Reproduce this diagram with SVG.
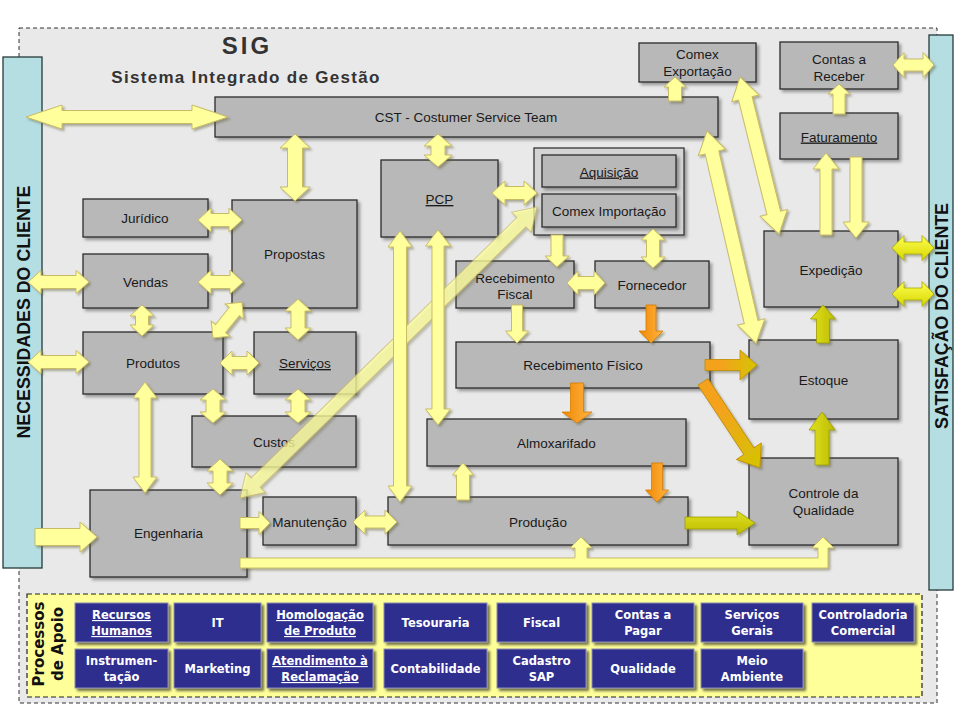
<svg xmlns="http://www.w3.org/2000/svg" width="960" height="720" viewBox="0 0 960 720">
<defs>
<style>
.bx{fill:#b8b8b8;stroke:#2a2a2a;stroke-width:1.3;filter:url(#sh)}
.ct{fill:#d4d4d4;stroke:#2a2a2a;stroke-width:1.2;filter:url(#sh)}
.t{font-family:"Liberation Sans",Arial,sans-serif;font-size:13.5px;fill:#1a1a1a;text-anchor:middle}
.u{text-decoration:underline}
.bar{fill:#b4dee2;stroke:#253a3a;stroke-width:1.3}
.bart{font-family:"Liberation Sans",Arial,sans-serif;font-weight:bold;font-size:17.8px;fill:#111;text-anchor:middle}
.bb{fill:#2f2f8f;stroke:#8a8ab0;stroke-width:1;filter:url(#sh2)}
.bt{font-family:"DejaVu Sans",Verdana,sans-serif;font-weight:bold;font-size:11.5px;fill:#ffffff;text-anchor:middle}
.ya{fill:#ffff9c;stroke:#c9bb66;stroke-width:1}
.oa{fill:url(#gO);stroke:#d47c00;stroke-width:0.8}
.la{fill:url(#gL);stroke:#9c9c00;stroke-width:0.8}
.xa{fill:url(#gX);stroke:#a8a800;stroke-width:0.8}
.oy{fill:url(#gOY);stroke:#c08a00;stroke-width:0.8}
</style>
<filter id="sh" x="-10%" y="-10%" width="130%" height="140%"><feDropShadow dx="2.5" dy="2.5" stdDeviation="1.5" flood-color="#000" flood-opacity="0.35"/></filter>
<filter id="sh2" x="-10%" y="-10%" width="130%" height="140%"><feDropShadow dx="2.5" dy="2.5" stdDeviation="1" flood-color="#000" flood-opacity="0.55"/></filter>
<filter id="ash" x="-5%" y="-5%" width="115%" height="115%"><feDropShadow dx="2" dy="2" stdDeviation="1.2" flood-color="#5a5a30" flood-opacity="0.45"/></filter>
<linearGradient id="gO" x1="0" y1="0" x2="0" y2="1"><stop offset="0" stop-color="#ffb444"/><stop offset="1" stop-color="#f08800"/></linearGradient>
<linearGradient id="gL" x1="0" y1="0" x2="0" y2="1"><stop offset="0" stop-color="#e0e020"/><stop offset="1" stop-color="#bcbc00"/></linearGradient>
<linearGradient id="gX" x1="0" y1="0" x2="0" y2="1"><stop offset="0" stop-color="#ffff50"/><stop offset="1" stop-color="#d6d600"/></linearGradient>
<linearGradient id="gOY" x1="0" y1="0" x2="1" y2="0"><stop offset="0.3" stop-color="#f4a21e"/><stop offset="1" stop-color="#d4c400"/></linearGradient>
</defs>

<rect width="960" height="720" fill="#ffffff"/>
<rect x="19" y="28" width="918" height="675" fill="#e9e9e9" stroke="#333" stroke-width="1" stroke-dasharray="4 3"/>

<g id="title">
<text x="247" y="54" font-family="Liberation Sans, Arial, sans-serif" font-weight="bold" font-size="24" letter-spacing="3" fill="#333" text-anchor="middle">SIG</text>
<text x="246" y="83" font-family="Liberation Sans, Arial, sans-serif" font-weight="bold" font-size="17" letter-spacing="1.3" fill="#333" text-anchor="middle">Sistema Integrado de Gestão</text>
</g>

<g id="necessidades">
<rect class="bar" x="3" y="57" width="39" height="511"/>
<text class="bart" transform="translate(30,312) rotate(-90)">NECESSIDADES DO CLIENTE</text>
</g>
<g id="satisfacao">
<rect class="bar" x="929" y="35" width="24" height="555"/>
<text class="bart" transform="translate(948,316) rotate(-90)">SATISFAÇÃO DO CLIENTE</text>
</g>

<g id="cst"><rect class="bx" x="215" y="97" width="503" height="40"/><text class="t" x="466" y="122">CST - Costumer Service Team</text></g>
<g id="comex-exportacao"><rect class="bx" x="639" y="43" width="117" height="39"/><text class="t" x="697.5" y="59">Comex</text><text class="t" x="697.5" y="75.5">Exportação</text></g>
<g id="contas-receber"><rect class="bx" x="780" y="42" width="118" height="47"/><text class="t" x="839" y="64">Contas a</text><text class="t" x="839" y="80.5">Receber</text></g>
<g id="faturamento"><rect class="bx" x="780" y="113" width="118" height="46"/><text class="t u" x="839" y="141.5">Faturamento</text></g>
<g id="pcp"><rect class="bx" x="381" y="160" width="117" height="77"/><text class="t u" x="439.5" y="204">PCP</text></g>
<g id="aquisicao-grupo"><rect class="ct" x="534" y="148" width="150" height="87"/>
<g id="aquisicao"><rect class="bx" x="542" y="155" width="134" height="32"/><text class="t u" x="609" y="176.5">Aquisição</text></g>
<g id="comex-importacao"><rect class="bx" x="542" y="194" width="134" height="33"/><text class="t" x="609" y="215.5">Comex Importação</text></g>
</g>
<g id="juridico"><rect class="bx" x="83" y="199" width="125" height="38"/><text class="t" x="145" y="222.5">Jurídico</text></g>
<g id="propostas"><rect class="bx" x="232" y="200" width="125" height="108"/><text class="t" x="294.5" y="259">Propostas</text></g>
<g id="vendas"><rect class="bx" x="83" y="254" width="125" height="54"/><text class="t" x="145.5" y="286.5">Vendas</text></g>
<g id="produtos"><rect class="bx" x="83" y="332" width="140" height="62"/><text class="t" x="153" y="368">Produtos</text></g>
<g id="servicos"><rect class="bx" x="254" y="332" width="102" height="62"/><text class="t u" x="305" y="368">Serviços</text></g>
<g id="custos"><rect class="bx" x="192" y="416" width="164" height="51"/><text class="t" x="274" y="446.5">Custos</text></g>
<g id="engenharia"><rect class="bx" x="90" y="490" width="157" height="87"/><text class="t" x="168.5" y="538">Engenharia</text></g>
<g id="manutencao"><rect class="bx" x="263" y="497" width="93" height="48"/><text class="t" x="309.5" y="526.5">Manutenção</text></g>
<g id="producao"><rect class="bx" x="388" y="497" width="300" height="48"/><text class="t" x="538" y="526.5">Produção</text></g>
<g id="almoxarifado"><rect class="bx" x="427" y="419" width="259" height="47"/><text class="t" x="556.5" y="447.5">Almoxarifado</text></g>
<g id="recebimento-fisico"><rect class="bx" x="456" y="342" width="254" height="46"/><text class="t" x="583" y="369.5">Recebimento Físico</text></g>
<g id="recebimento-fiscal"><rect class="bx" x="456" y="261" width="118" height="47"/><text class="t" x="515" y="282.5">Recebimento</text><text class="t" x="515" y="299">Fiscal</text></g>
<g id="fornecedor"><rect class="bx" x="595" y="261" width="114" height="47"/><text class="t" x="652" y="290">Fornecedor</text></g>
<g id="expedicao"><rect class="bx" x="764" y="231" width="134" height="76"/><text class="t" x="831" y="275">Expedição</text></g>
<g id="estoque"><rect class="bx" x="749" y="340" width="149" height="79"/><text class="t" x="823.5" y="385">Estoque</text></g>
<g id="controle-qualidade"><rect class="bx" x="749" y="458" width="149" height="87"/><text class="t" x="823.5" y="498">Controle da</text><text class="t" x="823.5" y="515">Qualidade</text></g>

<g id="connectors" filter="url(#ash)">
<polygon class="ya" opacity="0.72" points="0,0 22,-14 22,-6.5 394,-6.5 394,-14 416,0 394,14 394,6.5 22,6.5 22,14" transform="translate(240,498) rotate(-44.42)"/>
<polygon class="ya" points="0,0 36,-12 36,-6.5 166,-6.5 166,-12 202,0 166,12 166,6.5 36,6.5 36,12" transform="translate(26,117)"/>
<polygon class="ya" points="0,0 14,-15 14,-7.5 53,-7.5 53,-15 67,0 53,15 53,7.5 14,7.5 14,15" transform="translate(295,134) rotate(90)"/>
<polygon class="ya" points="0,0 12,-14 12,-7 21,-7 21,-14 33,0 21,14 21,7 12,7 12,14" transform="translate(438,134) rotate(90)"/>
<polygon class="ya" points="0,-6.5 14,-6.5 14,-11 24,0 14,11 14,6.5 0,6.5" transform="translate(675,101) rotate(-90)"/>
<polygon class="ya" points="0,0 22,-14 22,-7 140,-7 140,-14 162,0 140,14 140,7 22,7 22,14" transform="translate(740,77) rotate(76.05)"/>
<polygon class="ya" points="0,0 22,-14 22,-7 196,-7 196,-14 218,0 196,14 196,7 22,7 22,14" transform="translate(707,131) rotate(76.99)"/>
<polygon class="ya" points="0,-6 20,-6 20,-11 30,0 20,11 20,6 0,6" transform="translate(839,114) rotate(-90)"/>
<polygon class="ya" points="0,0 11,-12.5 11,-6 30,-6 30,-12.5 41,0 30,12.5 30,6 11,6 11,12.5" transform="translate(893,65)"/>
<polygon class="ya" points="0,-6 66,-6 66,-13 82,0 66,13 66,6 0,6" transform="translate(826,235) rotate(-90)"/>
<polygon class="ya" points="0,-6 65,-6 65,-13 81,0 65,13 65,6 0,6" transform="translate(856,157) rotate(90)"/>
<polygon class="xa" points="0,0 12,-12.5 12,-6 30,-6 30,-12.5 42,0 30,12.5 30,6 12,6 12,12.5" transform="translate(892,248)"/>
<polygon class="xa" points="0,0 12,-12.5 12,-6 30,-6 30,-12.5 42,0 30,12.5 30,6 12,6 12,12.5" transform="translate(892,294)"/>
<polygon class="la" points="0,-6.5 24,-6.5 24,-12.5 38,0 24,12.5 24,6.5 0,6.5" transform="translate(823,343) rotate(-90)"/>
<polygon class="la" points="0,-7 35,-7 35,-13 53,0 35,13 35,7 0,7" transform="translate(822,465) rotate(-90)"/>
<polygon class="oy" points="0,-5.5 35,-5.5 35,-15 52,0 35,15 35,5.5 0,5.5" transform="translate(705,365)"/>
<polygon class="oy" points="0,-6 83,-6 83,-15 103,0 83,15 83,6 0,6" transform="translate(703,382) rotate(56.45)"/>
<polygon class="la" points="0,-6 52,-6 52,-12 70,0 52,12 52,6 0,6" transform="translate(685,523)"/>
<polygon class="ya" points="240,558 575,558 575,548 570,548 581,537 592,548 587,548 587,558 818,558 818,548 812,548 823,537 834,548 828,548 828,568 240,568"/>
<polygon class="ya" points="0,-8.5 45,-8.5 45,-15 62,0 45,15 45,8.5 0,8.5" transform="translate(35,537)"/>
<polygon class="ya" points="0,0 13,-11.5 13,-6.5 48,-6.5 48,-11.5 61,0 48,11.5 48,6.5 13,6.5 13,11.5" transform="translate(28,282)"/>
<polygon class="ya" points="0,0 13,-11.5 13,-6.5 48,-6.5 48,-11.5 61,0 48,11.5 48,6.5 13,6.5 13,11.5" transform="translate(28,362)"/>
<polygon class="ya" points="0,0 13,-12 13,-6.5 31,-6.5 31,-12 44,0 31,12 31,6.5 13,6.5 13,12" transform="translate(198,220)"/>
<polygon class="ya" points="0,0 13,-12 13,-6.5 32,-6.5 32,-12 45,0 32,12 32,6.5 13,6.5 13,12" transform="translate(198,282)"/>
<polygon class="ya" points="0,0 11,-12 11,-6.5 20,-6.5 20,-12 31,0 20,12 20,6.5 11,6.5 11,12" transform="translate(142,305) rotate(90)"/>
<polygon class="ya" points="0,0 12,-12 12,-6.5 34,-6.5 34,-12 46,0 34,12 34,6.5 12,6.5 12,12" transform="translate(213,338) rotate(-51.15)"/>
<polygon class="ya" points="0,0 12,-13 12,-7 29,-7 29,-13 41,0 29,13 29,7 12,7 12,13" transform="translate(298,299) rotate(90)"/>
<polygon class="ya" points="0,0 12,-12 12,-6.5 27,-6.5 27,-12 39,0 27,12 27,6.5 12,6.5 12,12" transform="translate(220,363)"/>
<polygon class="ya" points="0,0 11,-13 11,-7 23,-7 23,-13 34,0 23,13 23,7 11,7 11,13" transform="translate(213,389) rotate(90)"/>
<polygon class="ya" points="0,0 11,-13 11,-7 23,-7 23,-13 34,0 23,13 23,7 11,7 11,13" transform="translate(298,389) rotate(90)"/>
<polygon class="ya" points="0,0 16,-12 16,-6 95,-6 95,-12 111,0 95,12 95,6 16,6 16,12" transform="translate(145,382) rotate(90)"/>
<polygon class="ya" points="0,0 12,-13 12,-7 24,-7 24,-13 36,0 24,13 24,7 12,7 12,13" transform="translate(220,459) rotate(90)"/>
<polygon class="ya" points="0,-5.5 19,-5.5 19,-11.5 30,0 19,11.5 19,5.5 0,5.5" transform="translate(240,523)"/>
<polygon class="ya" points="0,0 12,-12 12,-6 32,-6 32,-12 44,0 32,12 32,6 12,6 12,12" transform="translate(353,522)"/>
<polygon class="ya" points="0,0 16,-12 16,-6.5 255,-6.5 255,-12 271,0 255,12 255,6.5 16,6.5 16,12" transform="translate(400,231) rotate(90)"/>
<polygon class="ya" points="0,0 16,-12.5 16,-6 179,-6 179,-12.5 195,0 179,12.5 179,6 16,6 16,12.5" transform="translate(438,230) rotate(90)"/>
<polygon class="ya" points="0,0 13,-12 13,-6.5 32,-6.5 32,-12 45,0 32,12 32,6.5 13,6.5 13,12" transform="translate(492,193)"/>
<polygon class="ya" points="0,-6 21,-6 21,-12 32,0 21,12 21,6 0,6" transform="translate(557,235) rotate(90)"/>
<polygon class="ya" points="0,0 11,-12 11,-6.5 28,-6.5 28,-12 39,0 28,12 28,6.5 11,6.5 11,12" transform="translate(653,229) rotate(90)"/>
<polygon class="ya" points="0,0 11,-12 11,-6.5 27,-6.5 27,-12 38,0 27,12 27,6.5 11,6.5 11,12" transform="translate(567,283)"/>
<polygon class="ya" points="0,-5.5 26,-5.5 26,-11.5 38,0 26,11.5 26,5.5 0,5.5" transform="translate(517,305) rotate(90)"/>
<polygon class="oa" points="0,-5 26,-5 26,-12 38,0 26,12 26,5 0,5" transform="translate(651,305) rotate(90)"/>
<polygon class="oa" points="0,-6.5 29,-6.5 29,-15 40,0 29,15 29,6.5 0,6.5" transform="translate(577,383) rotate(90)"/>
<polygon class="oa" points="0,-5.5 27,-5.5 27,-11.5 39,0 27,11.5 27,5.5 0,5.5" transform="translate(657,463) rotate(90)"/>
<polygon class="ya" points="0,-6.5 25,-6.5 25,-10.5 37,0 25,10.5 25,6.5 0,6.5" transform="translate(463,500) rotate(-90)"/>
</g>

<g id="processos-apoio">
<rect x="27" y="594" width="895" height="103" fill="#ffff99" stroke="#222" stroke-width="1.2" stroke-dasharray="5 3"/>
<text transform="translate(44,644) rotate(-90)" font-family="DejaVu Sans, Verdana, sans-serif" font-weight="bold" font-size="15" fill="#111" text-anchor="middle">Processos</text>
<text transform="translate(63,644) rotate(-90)" font-family="DejaVu Sans, Verdana, sans-serif" font-weight="bold" font-size="15" fill="#111" text-anchor="middle">de Apoio</text>
</g>
<g id="recursos-humanos"><rect class="bb" x="75" y="603" width="93" height="39"/><text class="bt u" x="121.5" y="619">Recursos</text><text class="bt u" x="121.5" y="635">Humanos</text></g>
<g id="it"><rect class="bb" x="174" y="603" width="87" height="39"/><text class="bt" x="217.5" y="627">IT</text></g>
<g id="homologacao"><rect class="bb" x="267" y="603" width="106" height="39"/><text class="bt u" x="320" y="619">Homologação</text><text class="bt u" x="320" y="635">de Produto</text></g>
<g id="tesouraria"><rect class="bb" x="384" y="603" width="103" height="39"/><text class="bt" x="435.5" y="627">Tesouraria</text></g>
<g id="fiscal"><rect class="bb" x="497" y="603" width="89" height="39"/><text class="bt" x="541.5" y="627">Fiscal</text></g>
<g id="contas-pagar"><rect class="bb" x="592" y="603" width="102" height="39"/><text class="bt" x="643" y="619">Contas a</text><text class="bt" x="643" y="635">Pagar</text></g>
<g id="servicos-gerais"><rect class="bb" x="701" y="603" width="102" height="39"/><text class="bt" x="752" y="619">Serviços</text><text class="bt" x="752" y="635">Gerais</text></g>
<g id="controladoria"><rect class="bb" x="812" y="603" width="102" height="39"/><text class="bt" x="863" y="619">Controladoria</text><text class="bt" x="863" y="635">Comercial</text></g>
<g id="instrumentacao"><rect class="bb" x="75" y="649" width="93" height="39"/><text class="bt" x="121.5" y="665">Instrumen-</text><text class="bt" x="121.5" y="681">tação</text></g>
<g id="marketing"><rect class="bb" x="174" y="649" width="87" height="39"/><text class="bt" x="217.5" y="673">Marketing</text></g>
<g id="atendimento"><rect class="bb" x="267" y="649" width="106" height="39"/><text class="bt u" x="320" y="665">Atendimento à</text><text class="bt u" x="320" y="681">Reclamação</text></g>
<g id="contabilidade"><rect class="bb" x="384" y="649" width="103" height="39"/><text class="bt" x="435.5" y="673">Contabilidade</text></g>
<g id="cadastro-sap"><rect class="bb" x="497" y="649" width="89" height="39"/><text class="bt" x="541.5" y="665">Cadastro</text><text class="bt" x="541.5" y="681">SAP</text></g>
<g id="qualidade"><rect class="bb" x="592" y="649" width="102" height="39"/><text class="bt" x="643" y="673">Qualidade</text></g>
<g id="meio-ambiente"><rect class="bb" x="701" y="649" width="102" height="39"/><text class="bt" x="752" y="665">Meio</text><text class="bt" x="752" y="681">Ambiente</text></g>
</svg>
